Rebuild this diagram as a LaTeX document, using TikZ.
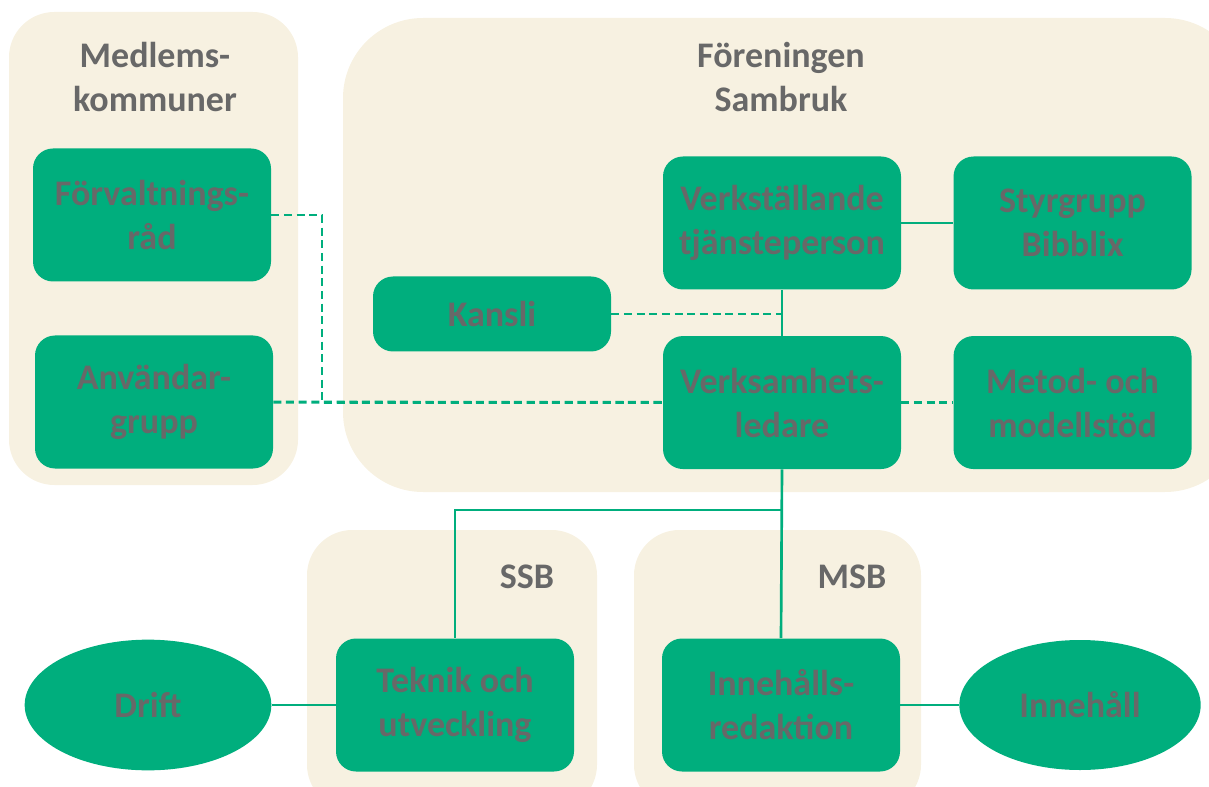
\documentclass[tikz,border=0pt]{standalone}
\usepackage{fontspec}
\setmainfont{Carlito}
\usetikzlibrary{positioning,shapes.geometric}
\definecolor{sambrukgreen}{RGB}{0,174,125}
\definecolor{sambrukcream}{RGB}{247,241,225}
\definecolor{sambrukgray}{RGB}{104,104,104}

\begin{document}
\begin{tikzpicture}[x=0.75pt, y=-0.75pt]
	\tikzstyle{all nodes}=[font=\bfseries\fontsize{27}{33}\selectfont, text=sambrukgray, align=center]
	\tikzstyle{box}=[all nodes, shape=rectangle, rounded corners=15pt, fill=sambrukgreen,
		minimum width=178.5pt, minimum height=99.75pt, inner sep=0pt]
	\tikzstyle{oval}=[all nodes, shape=ellipse, fill=sambrukgreen, inner sep=0pt]
	\tikzstyle{area}=[fill=sambrukcream]
	\tikzstyle{link}=[draw=sambrukgreen, line width=2pt]
	\tikzstyle{dlink}=[draw=sambrukgreen, line width=2.2pt, dash pattern=on 6pt off 3.5pt]
	\useasboundingbox (0,0) rectangle (1209,787);
	% % Areas
	\fill[area, rounded corners=34pt] (9,12) rectangle (298,485);
	\fill[area, rounded corners=60pt] (343,18) rectangle (1245,492);
	\fill[area, rounded corners=34pt] (307,530) rectangle (597,810);
	\fill[area, rounded corners=34pt] (634,530) rectangle (921,810);
	\node[all nodes] (members) at (155,77) {Medlems-\\kommuner};
	\node[all nodes] (sambruk) at (781,77) {Föreningen\\Sambruk};
	\node[all nodes] (ssb) at (527,577) {SSB};
	\node[all nodes] (msb) at (852,577) {MSB};
	% % Nodes
	% Sambruk
	\node[box] (exec) at (782,223) {Verkställande\\tjänsteperson};
	\node[box, right=39pt of exec] (board) {Styrgrupp\\Bibblix};
	\node[box, below=34.5pt of exec] (lead) {Verksamhets-\\ledare};
	\node[box, right=39pt of lead] (method) {Metod- och\\modellstöd};
	\node[box, minimum height=56.25pt] (office) at (492,314) {Kansli};
	% member municipalities
	\node[box] (council) at (152,215) {Förvaltnings-\\råd};
	\node[box] (users) at (154,402) {Användar-\\grupp};
	% SSB and MSB
	\node[box] (tech) at (455,705) {Teknik och\\utveckling};
	\node[box] (editors) at (781,705) {Innehålls-\\redaktion};
	% operation and content
	\node[oval, minimum width=185pt, minimum height=98pt] (ops) at (148,705) {Drift};
	\node[oval, minimum width=181pt, minimum height=97.5pt] (content) at (1080,705) {Innehåll};
	% % Connectors
	\coordinate (knee) at (322,215);
	\coordinate (split) at (781,510);
	\draw[link] (exec) -- (board);
	\draw[link] (exec) -- (lead);
	\draw[link] (lead.south) -- (editors.north);
	\draw[link] (split) -| (tech.north);
	\draw[link] (ops) -- (tech);
	\draw[link] (editors) -- (content);
	\draw[dlink] (council.east) -- (knee) |- (lead.west);
	\draw[dlink] (users) -- (lead);
	\draw[dlink] (office) -- (office -| exec);
	\draw[dlink] (lead) -- (method);
\end{tikzpicture}
\end{document}
